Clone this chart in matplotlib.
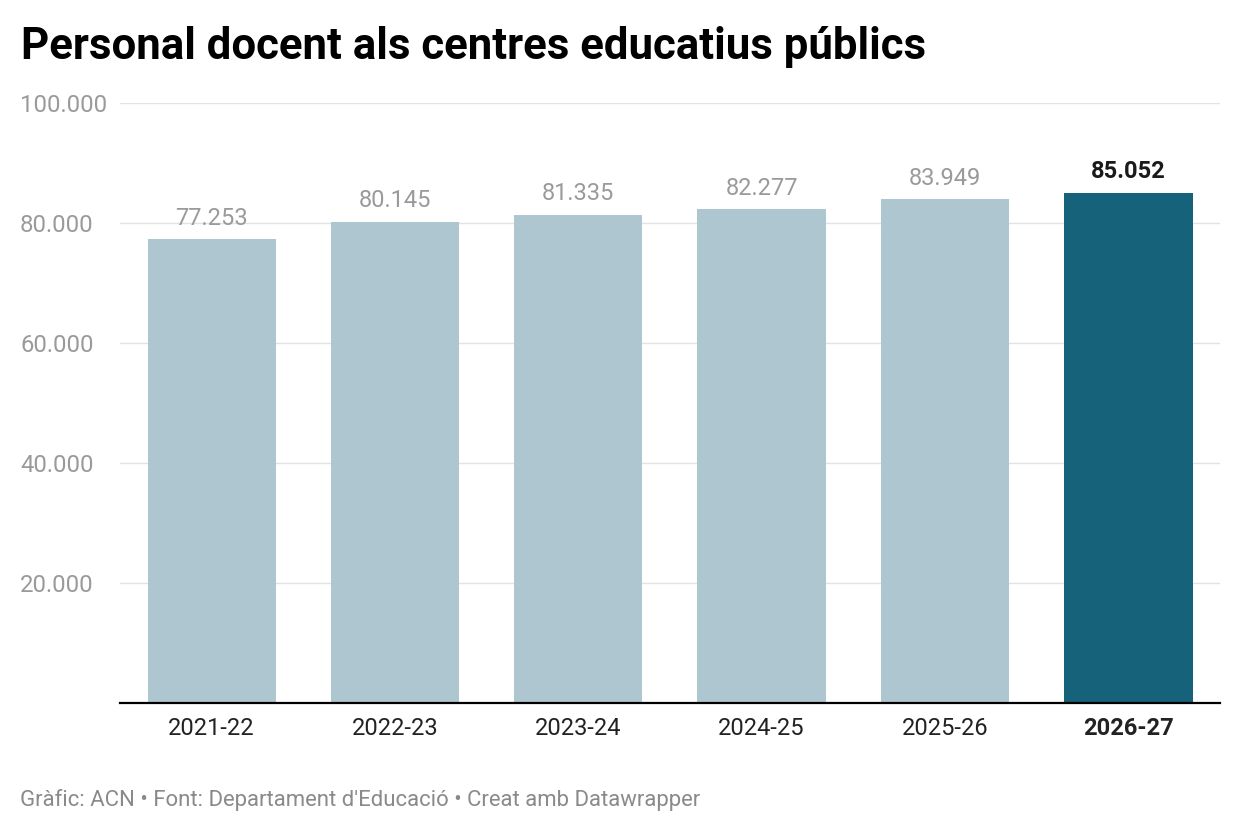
import matplotlib
matplotlib.use("Agg")
import matplotlib.pyplot as plt
from matplotlib.ticker import FuncFormatter

plt.rcParams['font.family'] = ['Roboto', 'DejaVu Sans']

categories = ["2021-22", "2022-23", "2023-24", "2024-25", "2025-26", "2026-27"]
values = [77253, 80145, 81335, 82277, 83949, 85052]
yticks = [20000, 40000, 60000, 80000, 100000]
title = "Personal docent als centres educatius públics"
footer = "Gràfic: ACN • Font: Departament d'Educació • Creat amb Datawrapper"

light = "#adc6cf"
dark = "#15627a"

def fmt(v):
    return f"{v:,.0f}".replace(",", ".")

W, H = 1240, 834
fig = plt.figure(figsize=(W/100, H/100), dpi=100)
ax = fig.add_axes([120/W, 1-703/H, 1100/W, 600/H])

colors = [light]*(len(values)-1) + [dark]
x = list(range(len(categories)))
ax.bar(x, values, width=0.70, color=colors, zorder=2)
ax.set_xlim(-0.5, len(categories)-0.5)
ax.set_ylim(0, 100000)

for spine in ["top", "right", "left"]:
    ax.spines[spine].set_visible(False)
ax.spines["bottom"].set_color("#000000")
ax.spines["bottom"].set_linewidth(1.6)
ax.spines["bottom"].set_zorder(3)

ax.set_yticks(yticks)
ax.yaxis.set_major_formatter(FuncFormatter(lambda v, p: fmt(v)))
ax.tick_params(axis="y", length=0, pad=72, labelsize=17.2, labelcolor="#9a9a9a")
for lab in ax.get_yticklabels():
    lab.set_horizontalalignment("left")
ax.grid(axis="y", color="#e2e2e2", linewidth=1, zorder=0)
ax.set_axisbelow(True)

ax.set_xticks(x)
ax.set_xticklabels(categories)
ax.tick_params(axis="x", length=0, pad=10, labelsize=17, labelcolor="#222222")
lbls = ax.get_xticklabels()
lbls[-1].set_fontweight("bold")

for i, v in enumerate(values):
    last = i == len(values)-1
    ax.annotate(fmt(v), (i, v), xytext=(0, 7), textcoords="offset points",
                ha="center", va="bottom", fontsize=17,
                color="#1a1a1a" if last else "#9a9a9a",
                fontweight="bold" if last else "normal")

fig.text(21/W, 1-47/H, title, fontsize=31.5, fontweight="bold", color="#000000",
         ha="left", va="center")
fig.text(20/W, 1-800/H, footer, fontsize=15.9, color="#8a8a8a", ha="left", va="center")

fig.savefig("out.png", dpi=100)
